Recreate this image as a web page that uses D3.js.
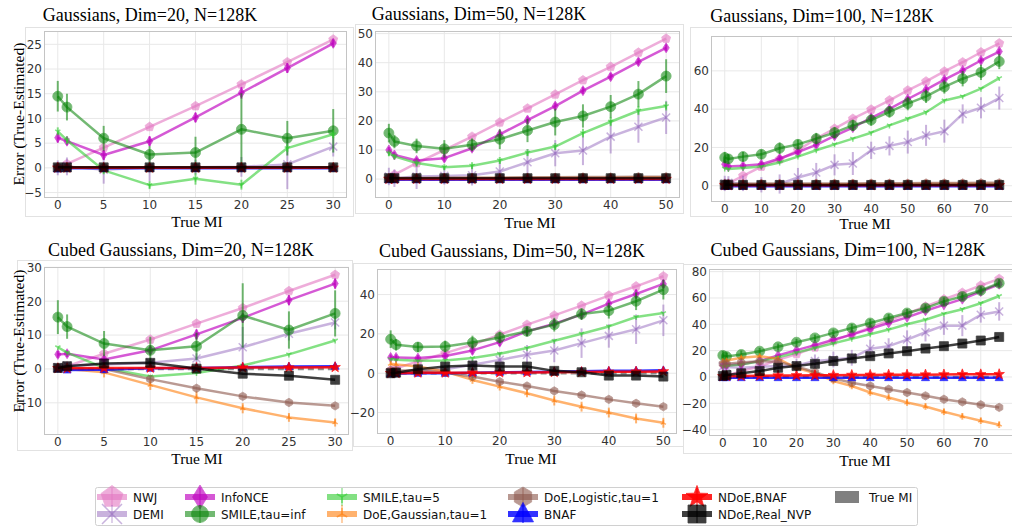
<!DOCTYPE html>
<html>
<head>
<meta charset="utf-8">
<script src="https://cdn.jsdelivr.net/npm/d3@7"></script>
<style>
body { margin: 0; background: #fff; }
svg { display: block; }
.tick-label { font-family: "DejaVu Sans", sans-serif; font-size: 12px; fill: #333; }
.title, .axis-label { font-family: "Liberation Serif", "Times New Roman", serif; fill: #000; }
.legend-text { font-family: "DejaVu Sans", sans-serif; font-size: 12px; fill: #111; }
</style>
</head>
<body>
<svg id="fig" width="1012" height="527"></svg>
<script>
// ---- Gaussians, Dim=20
var g20_x = [0, 1, 5, 10, 15, 20, 25, 30];
var g20_nwj = [0.2, 0.8, 4.1, 8.3, 12.5, 16.9, 21.4, 26.0];
var g20_demi = [0.0, 0.3, -0.4, 0.1, 0.1, 0.2, 0.7, 4.3];
var g20_demi_e = [1.5, 1.8, 2.8, 2.8, 1.5, 2.0, 5.0, 2.0];
var g20_infonce = [6.1, 5.4, 2.6, 5.4, 10.2, 15.2, 20.2, 25.2];
var g20_infonce_e = [1.0, 0.8, 1.0, 1.0, 1.0, 1.2, 1.0, 0.8];
var g20_smileInf = [14.5, 12.3, 6.0, 2.7, 3.1, 7.8, 6.0, 7.5];
var g20_smileInf_e = [3.1, 2.7, 2.5, 1.7, 3.2, 7.3, 3.5, 4.4];
var g20_smile5 = [7.4, 5.6, -0.5, -3.5, -2.2, -3.4, 4.0, 6.8];
var g20_smile5_e = [0.8, 0.8, 0.8, 0.8, 1.2, 1.0, 0.8, 0.8];
var g20_doeG = [0.1, 0.1, 0.1, 0.0, 0.1, 0.1, 0.1, 0.1];
var g20_doeL = [0.1, 0.1, 0.1, 0.1, 0.1, 0.1, 0.1, 0.1];
var g20_bnaf = [-0.2, -0.1, -0.1, -0.1, -0.1, -0.1, -0.1, -0.1];
var g20_ndoeB = [0.0, 0.0, 0.0, 0.0, 0.0, 0.0, 0.0, 0.0];
var g20_ndoeN = [0.1, 0.1, 0.1, 0.1, 0.1, 0.1, 0.1, 0.1];

// ---- Gaussians, Dim=50
var g50_x = [0, 1, 5, 10, 15, 20, 25, 30, 35, 40, 45, 50];
var g50_nwj = [0.3, 1.5, 5.5, 10.0, 14.6, 19.5, 24.3, 29.1, 34.0, 38.6, 43.5, 48.3];
var g50_demi = [0.9, 0.3, 0.9, 1.1, 1.3, 2.6, 5.8, 8.9, 9.8, 14.6, 18.0, 21.2];
var g50_demi_e = [3.0, 3.0, 4.3, 3.0, 3.5, 3.5, 4.5, 4.5, 5.0, 5.8, 5.5, 5.7];
var g50_infonce = [10.0, 8.3, 6.4, 7.2, 10.6, 15.4, 20.3, 25.1, 30.4, 35.2, 40.3, 45.1];
var g50_infonce_e = [1.0, 1.0, 1.0, 1.2, 1.2, 1.2, 1.2, 1.2, 1.2, 1.2, 1.2, 1.2];
var g50_smileInf = [15.8, 12.9, 11.4, 10.4, 11.8, 13.7, 16.7, 19.6, 21.7, 24.9, 29.2, 35.4];
var g50_smileInf_e = [3.2, 2.3, 2.5, 3.0, 2.2, 3.4, 4.0, 4.6, 4.0, 4.0, 4.5, 5.8];
var g50_smile5 = [8.9, 7.8, 5.5, 4.1, 4.6, 6.4, 9.1, 11.2, 15.8, 19.7, 23.5, 25.1];
var g50_smile5_e = [1.0, 1.0, 1.2, 1.0, 1.2, 1.2, 1.2, 1.2, 1.5, 1.5, 1.5, 1.5];
var g50_doeG = [0.3, 0.3, 0.3, 0.3, 0.4, 0.4, 0.4, 0.5, 0.5, 0.5, 0.6, 0.6];
var g50_doeL = [0.4, 0.4, 0.4, 0.5, 0.5, 0.5, 0.6, 0.6, 0.7, 0.7, 0.8, 0.8];
var g50_bnaf = [-0.2, -0.2, -0.2, -0.2, -0.2, -0.2, -0.2, -0.2, -0.2, -0.2, -0.2, -0.2];
var g50_ndoeB = [0.0, 0.0, 0.0, 0.0, 0.0, 0.0, 0.0, 0.0, 0.0, 0.0, 0.0, 0.0];
var g50_ndoeN = [0.3, 0.3, 0.3, 0.3, 0.3, 0.3, 0.3, 0.3, 0.3, 0.3, 0.3, 0.3];

// ---- Gaussians, Dim=100
var g100_x = [0, 1, 5, 10, 15, 20, 25, 30, 35, 40, 45, 50, 55, 60, 65, 70, 75];
var g100_nwj = [0.8, 1.2, 5.2, 10.0, 13.8, 18.5, 24.6, 29.8, 35.0, 39.8, 44.6, 49.8, 54.5, 59.7, 64.5, 69.7, 74.4];
var g100_demi = [1.2, 1.5, 1.2, 0.5, 0.9, 4.3, 6.9, 10.9, 11.6, 18.5, 20.8, 22.8, 26.3, 28.5, 37.5, 40.7, 45.8];
var g100_demi_e = [4.0, 3.5, 4.0, 4.0, 5.0, 5.0, 5.0, 5.5, 6.0, 4.5, 5.0, 6.0, 5.5, 6.0, 5.0, 5.5, 6.0];
var g100_infonce = [11.2, 10.0, 10.4, 11.2, 14.2, 17.6, 21.3, 26.0, 30.3, 35.5, 40.1, 45.3, 50.2, 55.4, 60.2, 65.4, 70.1];
var g100_infonce_e = [1.5, 1.5, 1.5, 1.5, 1.5, 1.5, 1.5, 1.5, 1.5, 1.5, 1.5, 1.5, 1.5, 1.5, 1.5, 1.5, 1.5];
var g100_smileInf = [14.7, 14.0, 15.2, 16.4, 19.6, 21.6, 24.6, 27.7, 31.5, 34.3, 38.6, 42.9, 46.7, 51.6, 55.9, 59.2, 64.9];
var g100_smileInf_e = [3.0, 2.5, 2.5, 2.5, 3.0, 2.5, 3.0, 3.0, 3.0, 3.0, 3.0, 3.5, 3.5, 3.5, 4.0, 4.0, 4.0];
var g100_smile5 = [9.0, 8.7, 9.2, 10.0, 12.1, 15.2, 18.5, 21.6, 24.6, 27.7, 31.5, 35.0, 38.4, 44.5, 46.7, 50.7, 56.2];
var g100_doeG = [0.6, 0.6, 0.6, 0.7, 0.7, 0.7, 0.8, 0.8, 0.8, 0.9, 0.9, 0.9, 1.0, 1.0, 1.0, 1.0, 1.0];
var g100_doeL = [1.0, 1.0, 1.0, 1.1, 1.1, 1.1, 1.2, 1.2, 1.2, 1.3, 1.3, 1.3, 1.4, 1.4, 1.4, 1.5, 1.5];
var g100_bnaf = [-0.3, -0.3, -0.3, -0.3, -0.3, -0.3, -0.3, -0.3, -0.3, -0.3, -0.3, -0.3, -0.3, -0.3, -0.3, -0.3, -0.3];
var g100_ndoeB = [0.2, 0.2, 0.2, 0.2, 0.2, 0.2, 0.2, 0.2, 0.2, 0.2, 0.2, 0.2, 0.2, 0.2, 0.2, 0.2, 0.2];
var g100_ndoeN = [0.5, 0.5, 0.4, 0.4, 0.4, 0.4, 0.4, 0.4, 0.4, 0.4, 0.4, 0.4, 0.4, 0.4, 0.4, 0.4, 0.4];

// ---- Cubed Gaussians, Dim=20
var c20_x = [0, 1, 5, 10, 15, 20, 25, 30];
var c20_nwj = [0.3, 0.8, 4.5, 8.7, 13.4, 18.0, 23.0, 27.8];
var c20_demi = [0.5, 1.0, 1.3, 1.8, 3.1, 6.4, 10.4, 13.7];
var c20_demi_e = [1.0, 1.0, 1.5, 1.5, 1.5, 6.0, 2.0, 2.0];
var c20_infonce = [4.3, 4.5, 2.8, 5.5, 10.2, 15.1, 20.3, 25.2];
var c20_infonce_e = [1.0, 1.0, 1.0, 1.0, 1.5, 1.5, 1.5, 1.5];
var c20_smileInf = [15.3, 12.5, 7.5, 5.5, 6.7, 15.8, 11.5, 16.4];
var c20_smileInf_e = [5.0, 3.6, 3.7, 4.0, 4.0, 9.5, 5.5, 6.8];
var c20_smile5 = [6.4, 4.8, 0.3, -2.2, -1.2, 1.0, 4.3, 8.4];
var c20_doeG = [0.3, 0.0, -1.0, -4.7, -8.4, -11.6, -14.3, -15.8];
var c20_doeG_e = [0.5, 0.5, 1.5, 1.5, 1.8, 1.5, 1.3, 1.2];
var c20_doeL = [0.3, 0.2, 0.0, -3.0, -5.7, -8.1, -9.9, -10.9];
var c20_bnaf = [0.0, -0.3, -0.2, 0.2, 0.3, 0.5, 0.7, 0.8];
var c20_ndoeB = [0.2, 0.2, 0.3, 0.3, 0.3, 0.4, 0.4, 0.5];
var c20_ndoeN = [0.3, 0.8, 1.6, 1.8, 0.1, -1.4, -2.0, -3.2];

// ---- Cubed Gaussians, Dim=50
var c50_x = [0, 1, 5, 10, 15, 20, 25, 30, 35, 40, 45, 50];
var c50_nwj = [1.5, 2.5, 6.0, 10.2, 14.5, 19.6, 24.7, 29.4, 34.4, 39.5, 44.2, 49.3];
var c50_demi = [0.5, 0.5, 1.0, 2.0, 4.3, 6.8, 9.4, 11.6, 15.3, 19.0, 22.4, 26.9];
var c50_demi_e = [2.0, 2.0, 2.5, 3.0, 3.0, 4.0, 5.0, 6.0, 7.5, 6.0, 7.5, 8.0];
var c50_infonce = [8.0, 8.0, 7.7, 8.8, 11.6, 15.8, 21.3, 25.2, 29.8, 35.4, 40.3, 45.4];
var c50_infonce_e = [1.5, 1.5, 1.5, 1.5, 2.0, 2.0, 2.0, 2.0, 2.0, 2.0, 2.0, 2.0];
var c50_smileInf = [17.3, 14.5, 13.3, 13.6, 15.6, 18.2, 21.3, 24.7, 30.1, 31.8, 36.6, 42.5];
var c50_smileInf_e = [4.5, 3.0, 2.5, 3.0, 3.5, 3.0, 2.5, 3.5, 3.0, 4.0, 4.5, 5.0];
var c50_smile5 = [7.1, 6.8, 6.3, 6.5, 7.7, 9.9, 12.8, 16.5, 20.1, 23.8, 28.6, 30.6];
var c50_doeG = [4.8, 4.5, 3.4, 0.9, -3.4, -6.8, -10.2, -13.9, -17.0, -20.0, -23.0, -25.2];
var c50_doeG_e = [1.0, 1.0, 1.5, 1.5, 2.0, 2.0, 2.0, 2.5, 2.5, 2.5, 2.5, 2.5];
var c50_doeL = [1.4, 1.4, 1.4, 0.3, -1.7, -4.3, -6.5, -9.0, -11.1, -13.3, -15.3, -17.0];
var c50_bnaf = [-0.3, -0.2, 0.0, 0.0, 0.3, 0.5, 0.6, 0.8, 1.0, 1.2, 1.3, 1.5];
var c50_ndoeB = [0.0, 0.0, 0.2, 0.2, 0.3, 0.3, 0.4, 0.5, 0.6, 0.7, 0.8, 0.9];
var c50_ndoeN = [0.0, 0.3, 2.0, 3.4, 3.9, 3.4, 3.4, 1.2, 0.5, -1.2, -1.2, -1.7];

// ---- Cubed Gaussians, Dim=100
var c100_x = [0, 1, 5, 10, 15, 20, 25, 30, 35, 40, 45, 50, 55, 60, 65, 70, 75];
var c100_nwj = [0.5, 1.0, 4.5, 8.0, 13.0, 17.5, 22.5, 27.5, 32.5, 37.5, 43.0, 48.0, 53.5, 59.0, 64.0, 69.5, 74.5];
var c100_demi = [8.0, 7.5, 7.0, 7.8, 8.3, 8.8, 12.1, 13.3, 14.6, 21.4, 23.4, 28.4, 34.0, 39.0, 39.0, 47.3, 49.8];
var c100_demi_e = [3.0, 3.0, 4.0, 4.0, 5.0, 5.0, 5.0, 6.0, 6.0, 7.0, 6.0, 7.0, 7.0, 7.0, 8.0, 6.0, 7.0];
var c100_infonce = [8.8, 9.0, 9.6, 12.1, 16.4, 20.4, 24.2, 28.4, 32.2, 36.5, 41.0, 45.3, 50.3, 54.8, 59.1, 64.9, 70.4];
var c100_smileInf = [16.4, 15.5, 17.1, 19.6, 22.9, 26.4, 29.7, 33.5, 37.2, 41.0, 44.8, 48.6, 52.3, 57.4, 61.1, 65.7, 71.2];
var c100_smileInf_e = [3.5, 3.0, 3.0, 2.5, 2.5, 2.5, 2.5, 2.5, 3.0, 3.0, 3.0, 3.0, 3.0, 3.0, 3.0, 3.0, 3.0];
var c100_smile5 = [8.0, 8.5, 9.5, 12.0, 15.0, 18.5, 22.0, 25.5, 29.0, 32.5, 36.0, 40.0, 43.5, 48.0, 51.5, 56.0, 61.5];
var c100_doeG = [12.0, 12.5, 14.6, 15.8, 13.8, 7.0, 2.8, -3.0, -6.8, -11.8, -15.6, -19.4, -22.4, -26.4, -29.9, -33.2, -36.2];
var c100_doeG_e = [1.5, 1.5, 1.5, 1.5, 1.5, 2.0, 2.0, 2.5, 2.5, 2.5, 2.5, 2.5, 2.5, 2.5, 2.5, 2.5, 2.5];
var c100_doeL = [10.0, 10.0, 11.0, 12.0, 11.5, 8.0, 3.8, -1.0, -4.3, -6.8, -9.3, -11.8, -14.3, -16.9, -18.9, -21.1, -23.1];
var c100_bnaf = [-0.5, -0.5, -0.5, -0.5, -0.5, -0.5, -0.5, -0.5, -0.5, -0.5, -0.5, -0.5, -0.5, -0.5, -0.5, -0.5, -0.5];
var c100_ndoeB = [0.5, 0.6, 0.8, 1.0, 1.1, 1.2, 1.3, 1.4, 1.5, 1.6, 1.7, 1.8, 1.8, 1.9, 2.0, 2.0, 2.1];
var c100_ndoeN = [0.8, 1.5, 2.8, 4.5, 7.0, 8.3, 10.0, 12.1, 14.1, 15.8, 17.9, 19.6, 21.6, 23.4, 25.4, 27.7, 30.4];

// methods, in plotting / legend order
var methods = [
	{ key: "nwj", name: "NWJ", color: "#e377c2", alpha: 0.6, marker: "p", ms: 9, lms: 22 },
	{ key: "demi", name: "DEMI", color: "#9467bd", alpha: 0.5, marker: "x", ms: 8, lms: 20 },
	{ key: "infonce", name: "InfoNCE", color: "#bf00bf", alpha: 0.65, marker: "d", ms: 10, lms: 24 },
	{ key: "smileInf", name: "SMILE,tau=inf", color: "#008000", alpha: 0.55, marker: "o", ms: 10, lms: 17 },
	{ key: "smile5", name: "SMILE,tau=5", color: "#32cd32", alpha: 0.6, marker: "1", ms: 6, lms: 12 },
	{ key: "doeG", name: "DoE,Gaussian,tau=1", color: "#ff7f0e", alpha: 0.6, marker: "2", ms: 6, lms: 12 },
	{ key: "doeL", name: "DoE,Logistic,tau=1", color: "#8c564b", alpha: 0.6, marker: "h", ms: 8, lms: 19 },
	{ key: "bnaf", name: "BNAF", color: "#0000ff", alpha: 0.8, marker: "^", ms: 8, lms: 21 },
	{ key: "ndoeB", name: "NDoE,BNAF", color: "#ff0000", alpha: 0.85, marker: "*", ms: 10, lms: 21 },
	{ key: "ndoeN", name: "NDoE,Real_NVP", color: "#000000", alpha: 0.75, marker: "s", ms: 9, lms: 18 }
];

var panels = [
	{ title: "Gaussians, Dim=20, N=128K", x: g20_x,
		s: { nwj: g20_nwj, demi: g20_demi, infonce: g20_infonce, smileInf: g20_smileInf, smile5: g20_smile5, doeG: g20_doeG, doeL: g20_doeL, bnaf: g20_bnaf, ndoeB: g20_ndoeB, ndoeN: g20_ndoeN },
		e: { demi: g20_demi_e, infonce: g20_infonce_e, smileInf: g20_smileInf_e, smile5: g20_smile5_e },
		box: [44, 347, 31, 198], xd: [-1.5, 31.5], yd: [-6.1, 27.7],
		xt: [0, 5, 10, 15, 20, 25, 30], yt: [-5, 0, 5, 10, 15, 20, 25],
		tt: [150, 21], xl: [197, 227], yl: 114, frame: [25, 27, 353, 216] },
	{ title: "Gaussians, Dim=50, N=128K", x: g50_x,
		s: { nwj: g50_nwj, demi: g50_demi, infonce: g50_infonce, smileInf: g50_smileInf, smile5: g50_smile5, doeG: g50_doeG, doeL: g50_doeL, bnaf: g50_bnaf, ndoeB: g50_ndoeB, ndoeN: g50_ndoeN },
		e: { demi: g50_demi_e, infonce: g50_infonce_e, smileInf: g50_smileInf_e, smile5: g50_smile5_e },
		box: [375, 680, 31, 198], xd: [-2.5, 52.5], yd: [-6.5, 50.9],
		xt: [0, 10, 20, 30, 40, 50], yt: [0, 10, 20, 30, 40, 50],
		tt: [479, 20], xl: [530, 228], frame: [355, 24, 683, 213] },
	{ title: "Gaussians, Dim=100, N=128K", x: g100_x,
		s: { nwj: g100_nwj, demi: g100_demi, infonce: g100_infonce, smileInf: g100_smileInf, smile5: g100_smile5, doeG: g100_doeG, doeL: g100_doeL, bnaf: g100_bnaf, ndoeB: g100_ndoeB, ndoeN: g100_ndoeN },
		e: { demi: g100_demi_e, infonce: g100_infonce_e, smileInf: g100_smileInf_e },
		box: [711, 1013, 36, 202], xd: [-3.75, 78.75], yd: [-8.5, 78.2],
		xt: [0, 10, 20, 30, 40, 50, 60, 70], yt: [0, 20, 40, 60],
		tt: [822, 22], xl: [865, 229], frame: [690, 27, 1016, 216] },
	{ title: "Cubed Gaussians, Dim=20, N=128K", x: c20_x,
		s: { nwj: c20_nwj, demi: c20_demi, infonce: c20_infonce, smileInf: c20_smileInf, smile5: c20_smile5, doeG: c20_doeG, doeL: c20_doeL, bnaf: c20_bnaf, ndoeB: c20_ndoeB, ndoeN: c20_ndoeN },
		e: { demi: c20_demi_e, infonce: c20_infonce_e, smileInf: c20_smileInf_e, doeG: c20_doeG_e },
		box: [44, 349, 267, 435], xd: [-1.5, 31.5], yd: [-19.5, 30.1],
		xt: [0, 5, 10, 15, 20, 25, 30], yt: [-10, 0, 10, 20, 30],
		tt: [181, 256], xl: [197, 464], yl: 341, frame: [17, 260, 352, 450] },
	{ title: "Cubed Gaussians, Dim=50, N=128K", x: c50_x,
		s: { nwj: c50_nwj, demi: c50_demi, infonce: c50_infonce, smileInf: c50_smileInf, smile5: c50_smile5, doeG: c50_doeG, doeL: c50_doeL, bnaf: c50_bnaf, ndoeB: c50_ndoeB, ndoeN: c50_ndoeN },
		e: { demi: c50_demi_e, infonce: c50_infonce_e, smileInf: c50_smileInf_e, doeG: c50_doeG_e },
		box: [377, 677, 269, 434], xd: [-2.5, 52.5], yd: [-30.9, 53],
		xt: [0, 10, 20, 30, 40, 50], yt: [-20, 0, 20, 40],
		tt: [512, 257], xl: [531, 464], frame: [353, 263, 683, 446] },
	{ title: "Cubed Gaussians, Dim=100, N=128K", x: c100_x,
		s: { nwj: c100_nwj, demi: c100_demi, infonce: c100_infonce, smileInf: c100_smileInf, smile5: c100_smile5, doeG: c100_doeG, doeL: c100_doeL, bnaf: c100_bnaf, ndoeB: c100_ndoeB, ndoeN: c100_ndoeN },
		e: { demi: c100_demi_e, smileInf: c100_smileInf_e, doeG: c100_doeG_e },
		box: [709, 1013, 269, 436], xd: [-3.75, 78.75], yd: [-44.8, 82],
		xt: [0, 10, 20, 30, 40, 50, 60, 70], yt: [-40, -20, 0, 20, 40, 60, 80],
		tt: [848, 256], xl: [865, 466], frame: [683, 264, 1016, 453] }
];

var svg = d3.select("#fig");

function markerPath(t, s) {
	var r = s / 2;
	function poly(n, rot, rr) {
		return d3.range(n).map(function(i) {
			var a = rot + i * 2 * Math.PI / n;
			return [rr * Math.cos(a), rr * Math.sin(a)];
		});
	}
	function P(pts) {
		return "M" + pts.map(function(p) { return p[0].toFixed(2) + "," + p[1].toFixed(2); }).join("L") + "Z";
	}
	switch (t) {
		case "p": return P(poly(5, -Math.PI / 2, r * 1.05));
		case "h": return P(poly(6, -Math.PI / 2, r * 1.05));
		case "^": return P([[0, -r * 1.1], [r * 1.0, r * 0.75], [-r * 1.0, r * 0.75]]);
		case "s": return P([[-r, -r], [r, -r], [r, r], [-r, r]]);
		case "d": return P([[0, -r], [r * 0.62, 0], [0, r], [-r * 0.62, 0]]);
		case "o": return "M" + r + ",0A" + r + "," + r + " 0 1,1 " + (-r) + ",0A" + r + "," + r + " 0 1,1 " + r + ",0Z";
		case "*":
			return P(d3.range(10).map(function(i) {
				var a = -Math.PI / 2 + i * Math.PI / 5, rr = i % 2 ? r * 0.45 : r * 1.1;
				return [rr * Math.cos(a), rr * Math.sin(a)];
			}));
		case "x": return "M" + (-r) + "," + (-r) + "L" + r + "," + r + "M" + (-r) + "," + r + "L" + r + "," + (-r);
		case "1": return "M0,0L0," + r + "M0,0L" + (-r * 0.87) + "," + (-r * 0.5) + "M0,0L" + (r * 0.87) + "," + (-r * 0.5);
		case "2": return "M0,0L0," + (-r) + "M0,0L" + (-r * 0.87) + "," + (r * 0.5) + "M0,0L" + (r * 0.87) + "," + (r * 0.5);
	}
}
var strokeMarkers = { "x": 1, "1": 1, "2": 1 };

function drawMarker(g, m, cx, cy, size, sw) {
	var p = g.append("path")
		.attr("d", markerPath(m.marker, size))
		.attr("transform", "translate(" + cx + "," + cy + ")")
		.attr("opacity", m.alpha);
	if (strokeMarkers[m.marker]) {
		p.attr("fill", "none").attr("stroke", m.color).attr("stroke-width", sw || 1.5);
	} else {
		p.attr("fill", m.color).attr("stroke", m.color).attr("stroke-width", 0.8);
	}
}

panels.forEach(function(pn, pi) {
	var L = pn.box[0], R = pn.box[1], T = pn.box[2], B = pn.box[3];
	var g = svg.append("g").attr("class", "panel");

	// pasted-image frame
	g.append("rect")
		.attr("x", pn.frame[0] + 0.5).attr("y", pn.frame[1] + 0.5)
		.attr("width", pn.frame[2] - pn.frame[0]).attr("height", pn.frame[3] - pn.frame[1])
		.attr("fill", "none").attr("stroke", "#e2e2e2").attr("stroke-width", 1);

	var xScale = d3.scaleLinear().domain(pn.xd).range([L, R]);
	var yScale = d3.scaleLinear().domain(pn.yd).range([B, T]);

	// grid
	g.append("g").selectAll("line").data(pn.xt).enter().append("line")
		.attr("x1", function(d) { return xScale(d); }).attr("x2", function(d) { return xScale(d); })
		.attr("y1", T).attr("y2", B)
		.attr("stroke", "#e8e8e8").attr("stroke-width", 1);
	g.append("g").selectAll("line").data(pn.yt).enter().append("line")
		.attr("y1", function(d) { return yScale(d); }).attr("y2", function(d) { return yScale(d); })
		.attr("x1", L).attr("x2", R)
		.attr("stroke", "#e8e8e8").attr("stroke-width", 1);

	// tick labels
	var fmt = d3.format("d");
	g.append("g").selectAll("text").data(pn.yt).enter().append("text")
		.attr("class", "tick-label")
		.attr("x", L - 2).attr("y", function(d) { return yScale(d); })
		.attr("dy", "0.36em").attr("text-anchor", "end")
		.text(function(d) { return fmt(d); });
	g.append("g").selectAll("text").data(pn.xt).enter().append("text")
		.attr("class", "tick-label")
		.attr("x", function(d) { return xScale(d); }).attr("y", B + 11)
		.attr("text-anchor", "middle")
		.text(function(d) { return fmt(d); });

	// data
	var clipId = "clip" + pi;
	g.append("clipPath").attr("id", clipId).append("rect")
		.attr("x", L).attr("y", T).attr("width", R - L).attr("height", B - T);
	var dg = g.append("g").attr("clip-path", "url(#" + clipId + ")");

	// True MI reference (zero error), over the sampled MI range
	dg.append("line")
		.attr("x1", xScale(d3.min(pn.x))).attr("x2", xScale(d3.max(pn.x)))
		.attr("y1", yScale(0)).attr("y2", yScale(0))
		.attr("stroke", "#808080").attr("stroke-width", 2.5)
		.attr("stroke-dasharray", "6,4").attr("opacity", 0.9);

	var line = d3.line()
		.x(function(d) { return xScale(d[0]); })
		.y(function(d) { return yScale(d[1]); });

	methods.forEach(function(m) {
		var vals = pn.s[m.key];
		if (!vals) return;
		var pts = pn.x.map(function(x, i) { return [x, vals[i]]; });
		var sg = dg.append("g").attr("class", "series-" + m.key);
		sg.append("path")
			.attr("d", line(pts))
			.attr("fill", "none").attr("stroke", m.color)
			.attr("stroke-width", 2.5).attr("opacity", m.alpha)
			.attr("stroke-linejoin", "round");
		var err = pn.e[m.key];
		if (err) {
			sg.selectAll("line.err").data(pts).enter().append("line")
				.attr("class", "err")
				.attr("x1", function(d) { return xScale(d[0]); })
				.attr("x2", function(d) { return xScale(d[0]); })
				.attr("y1", function(d, i) { return yScale(d[1] - err[i]); })
				.attr("y2", function(d, i) { return yScale(d[1] + err[i]); })
				.attr("stroke", m.color).attr("stroke-width", 2).attr("opacity", m.alpha);
		}
		pts.forEach(function(d) {
			drawMarker(sg, m, xScale(d[0]), yScale(d[1]), m.ms);
		});
	});

	// spines
	g.append("rect")
		.attr("x", L + 0.5).attr("y", T + 0.5)
		.attr("width", R - L - 1).attr("height", B - T - 1)
		.attr("fill", "none").attr("stroke", "#c4c4c4").attr("stroke-width", 1);

	// titles and labels
	g.append("text").attr("class", "title")
		.attr("x", pn.tt[0]).attr("y", pn.tt[1])
		.attr("text-anchor", "middle").style("font-size", "18px")
		.text(pn.title);
	g.append("text").attr("class", "axis-label")
		.attr("x", pn.xl[0]).attr("y", pn.xl[1])
		.attr("text-anchor", "middle").style("font-size", "15.5px")
		.text("True MI");
	if (pn.yl) {
		g.append("text").attr("class", "axis-label")
			.attr("transform", "translate(24," + pn.yl + ") rotate(-90)")
			.attr("text-anchor", "middle").style("font-size", "15.5px")
			.text("Error (True-Estimated)");
	}
});

// legend
var legCols = [97, 185, 327, 508, 682, 835];
var legRows = [497, 514];
var lg = svg.append("g").attr("class", "legend");
lg.append("rect")
	.attr("x", 95.5).attr("y", 487.5).attr("width", 822).attr("height", 38)
	.attr("rx", 2).attr("fill", "#fff").attr("stroke", "#d0d0d0").attr("stroke-width", 1);

methods.forEach(function(m, i) {
	var col = Math.floor(i / 2), row = i % 2;
	var x0 = legCols[col], cy = legRows[row], hw = 30, cx = x0 + hw / 2;
	var hg = lg.append("g");
	hg.append("line")
		.attr("x1", x0).attr("x2", x0 + hw).attr("y1", cy).attr("y2", cy)
		.attr("stroke", m.color).attr("stroke-width", 6).attr("opacity", m.alpha);
	hg.append("line")
		.attr("x1", cx).attr("x2", cx).attr("y1", cy - 9).attr("y2", cy + 9)
		.attr("stroke", m.color).attr("stroke-width", 1.2).attr("opacity", m.alpha);
	drawMarker(hg, m, cx, cy, m.lms, 1.5);
	lg.append("text").attr("class", "legend-text")
		.attr("x", x0 + 36).attr("y", cy + 4.5)
		.text(m.name);
});
lg.append("rect")
	.attr("x", legCols[5]).attr("y", 491).attr("width", 24).attr("height", 12)
	.attr("fill", "#808080");
lg.append("text").attr("class", "legend-text")
	.attr("x", legCols[5] + 34).attr("y", legRows[0] + 4.5)
	.text("True MI");
</script>
</body>
</html>
